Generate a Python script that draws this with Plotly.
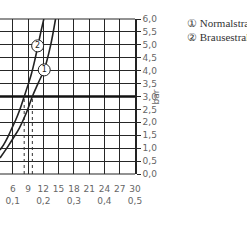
import plotly.graph_objects as go

# Flow (l/min) and pressure (bar)
flow_brause = [3.5, 4.2, 5.0, 5.8, 6.6, 7.4, 8.25, 9.0, 9.7, 10.3, 10.9, 11.5, 12.1]
pres_brause = [0.93, 1.13, 1.42, 1.76, 2.1, 2.5, 3.0, 3.45, 3.9, 4.38, 4.92, 5.48, 6.0]
flow_normal = [3.5, 5.1, 6.3, 7.3, 8.7, 9.85, 11.0, 12.2, 13.4, 14.4]
pres_normal = [0.62, 1.08, 1.45, 1.78, 2.38, 3.0, 3.52, 4.05, 4.95, 6.0]

ref_pressure = 3.0
flow_at_ref = [8.25, 9.85]

label_names = ["1", "2"]
label_flow = [12.18, 10.89]
label_pres = [4.03, 4.96]

x_ticks = [6, 9, 12, 15, 18, 21, 24, 27, 30]
x_ticktext = ["6<br>0,1", "9", "12<br>0,2", "15", "18<br>0,3", "21", "24<br>0,4", "27", "30<br>0,5"]
y_ticks = [0, 0.5, 1, 1.5, 2, 2.5, 3, 3.5, 4, 4.5, 5, 5.5, 6]
y_ticktext = ["0,0", "0,5", "1,0", "1,5", "2,0", "2,5", "3,0", "3,5", "4,0", "4,5", "5,0", "5,5", "6,0"]

legend_lines = ["\u2460 Normalstrahl", "\u2461 Brausestrahl"]

grid_col = "#262626"
text_col = "#666666"

fig = go.Figure()

# dashed verticals down from the 3 bar line
for q in flow_at_ref:
    fig.add_trace(go.Scatter(x=[q, q], y=[0, ref_pressure], mode="lines",
                             line=dict(color="#333333", width=1, dash="dot"),
                             hoverinfo="skip", showlegend=False))

fig.add_trace(go.Scatter(x=[3.5, 30], y=[ref_pressure, ref_pressure], mode="lines",
                         line=dict(color="#111111", width=2.5),
                         hoverinfo="skip", showlegend=False))

for fx, py in [(flow_normal, pres_normal), (flow_brause, pres_brause)]:
    fig.add_trace(go.Scatter(x=fx, y=py, mode="lines", line=dict(color="#222222", width=1.6, shape="spline"),
                             showlegend=False, hoverinfo="skip"))

fig.add_trace(go.Scatter(x=label_flow, y=label_pres, mode="markers+text", text=label_names,
                         textposition="middle center",
                         textfont=dict(family="DejaVu Sans", size=8, color="#222222"),
                         marker=dict(size=12, color="white", line=dict(color="#222222", width=1)),
                         showlegend=False, hoverinfo="skip"))

fig.update_xaxes(range=[3.5, 30], tickvals=x_ticks, ticktext=x_ticktext,
                 showgrid=True, gridcolor=grid_col, gridwidth=1.2, zeroline=False,
                 ticks="", ticklabelstandoff=8,
                 tickfont=dict(family="DejaVu Sans", size=9, color=text_col),
                 showline=False)
fig.update_yaxes(range=[0, 6], tickvals=y_ticks, ticktext=y_ticktext, side="right",
                 showgrid=True, gridcolor=grid_col, gridwidth=1.2, zeroline=False,
                 ticks="outside", ticklen=4, tickcolor=grid_col,
                 tickfont=dict(family="DejaVu Sans", size=9, color=text_col),
                 showline=True, linecolor="#222222", linewidth=1.5, mirror=False)

plot_w = 247 - 111.6
plot_h = 247 - 19 - 73

fig.add_annotation(x=156 / plot_w, y=(174 - 97) / plot_h, xref="paper", yref="paper", text="bar",
                   showarrow=False, textangle=-90, xanchor="center", yanchor="middle",
                   font=dict(family="DejaVu Sans", size=9, color=text_col))

fig.update_layout(
    width=247, height=247,
    margin=dict(l=0, r=111.6, t=19, b=73),
    paper_bgcolor="white", plot_bgcolor="white",
    shapes=[dict(type="line", xref="paper", yref="paper", x0=0, x1=1, y0=1, y1=1,
                 line=dict(color=grid_col, width=1.2)),
            dict(type="line", xref="paper", yref="paper", x0=0, x1=1, y0=0, y1=0,
                 line=dict(color=grid_col, width=1.2))],
)

for i, txt in enumerate(legend_lines):
    fig.add_annotation(x=186 / plot_w, y=(174 - (23 + 14 * i)) / plot_h, xref="paper", yref="paper",
                       text=txt, showarrow=False, xanchor="left", yanchor="middle",
                       font=dict(family="Liberation Serif", size=11, color="#333333"))

fig.write_html("out.html")
